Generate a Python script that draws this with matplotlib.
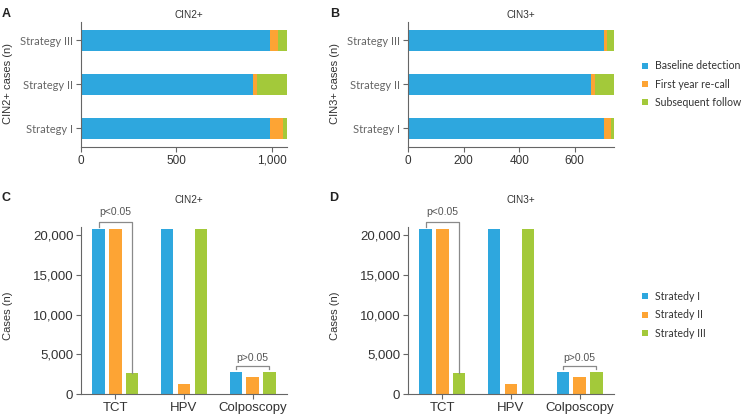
import matplotlib
matplotlib.use("Agg")
import matplotlib.pyplot as plt
import numpy as np
from matplotlib.lines import Line2D

# Panels A/B: detection timing per strategy (stacked horizontal bars)
strategies = ["Strategy I", "Strategy II", "Strategy III"]
phases = ["Baseline detection", "First year re-call", "Subsequent follow"]
cin2_baseline = [990, 900, 990]
cin2_recall = [70, 25, 45]
cin2_follow = [21, 156, 46]
cin3_baseline = [704, 660, 704]
cin3_recall = [25, 12, 12]
cin3_follow = [12, 69, 25]

# Panels C/D: cases by test method and strategy
methods = ["TCT", "HPV", "Colposcopy"]
series_labels = ["Stratedy I", "Stratedy II", "Stratedy III"]
cin2_cases = {
    "Stratedy I": [20800, 20800, 2750],
    "Stratedy II": [20800, 1250, 2200],
    "Stratedy III": [2700, 20800, 2800],
}
cin3_cases = {
    "Stratedy I": [20800, 20800, 2750],
    "Stratedy II": [20800, 1250, 2200],
    "Stratedy III": [2700, 20800, 2800],
}

BLUE = "#2ea7de"
ORANGE = "#fda434"
GREEN = "#a3c93a"
COLORS = [BLUE, ORANGE, GREEN]
SPINE = "#666666"
TXT = "#333333"
NUM_FONT = "Liberation Sans"
LBL_FONT = "Lato"

W, H = 743, 418
fig = plt.figure(figsize=(W / 100, H / 100), dpi=100)


def px_rect(left, top, right, bottom):
    return [left / W, 1 - bottom / H, (right - left) / W, (bottom - top) / H]


def style_axes(ax):
    for s in ("top", "right"):
        ax.spines[s].set_visible(False)
    for s in ("left", "bottom"):
        ax.spines[s].set_color(SPINE)
        ax.spines[s].set_linewidth(0.8)
    ax.tick_params(colors=SPINE, length=3.5, width=0.8, pad=2)


def stacked(ax, base, recall, follow):
    y = np.arange(len(strategies))
    left = np.zeros(len(y))
    for vals, c in zip([base, recall, follow], COLORS):
        ax.barh(y, vals, left=left, height=0.48, color=c, linewidth=0)
        left = left + np.array(vals)
    ax.set_yticks(y)
    ax.set_yticklabels(strategies, fontfamily=LBL_FONT, fontsize=8, color=TXT)
    ax.set_ylim(-0.43, 2.42)
    ax.set_xlim(0, left.max())
    style_axes(ax)
    for lab in ax.get_xticklabels():
        lab.set_fontfamily(NUM_FONT)
        lab.set_fontsize(8.5)
        lab.set_color(TXT)


def grouped(ax, data):
    x = np.arange(len(methods))
    offsets = [-0.245, 0, 0.245]
    for lab, off, c in zip(series_labels, offsets, COLORS):
        ax.bar(x + off, data[lab], width=0.184, color=c, linewidth=0)
    ax.set_xlim(-0.5, 2.5)
    ax.set_ylim(0, 21000)
    ax.set_yticks([0, 5000, 10000, 15000, 20000])
    ax.set_yticklabels(["0", "5,000", "10,000", "15,000", "20,000"])
    ax.set_xticks(x)
    ax.set_xticklabels(methods)
    style_axes(ax)
    for lab in ax.get_xticklabels() + ax.get_yticklabels():
        lab.set_fontfamily(NUM_FONT)
        lab.set_fontsize(9.5)
        lab.set_color(TXT)

    # significance brackets
    bc = "#8a8a8a"
    tl = x[0] + offsets[0]
    tr = x[0] + offsets[2]
    ax.plot([tl, tl, tr, tr], [21040, 21670, 21670, data["Stratedy III"][0]],
            color=bc, lw=0.9, clip_on=False)
    ax.text((tl + tr) / 2, 22300, "p<0.05", ha="center", va="bottom",
            fontsize=7.5, color="#555555", fontfamily=NUM_FONT, clip_on=False)
    cl = x[2] + offsets[0]
    cr = x[2] + offsets[2]
    ax.plot([cl, cl, cr, cr], [3140, 3550, 3550, 3140], color=bc, lw=0.9)
    ax.text((cl + cr) / 2, 3950, "p>0.05", ha="center", va="bottom",
            fontsize=7.5, color="#555555", fontfamily=NUM_FONT)


axA = fig.add_axes(px_rect(81, 22, 287, 147))
stacked(axA, cin2_baseline, cin2_recall, cin2_follow)
axA.set_xticks([0, 500, 1000])
axA.set_xticklabels(["0", "500", "1,000"])

axB = fig.add_axes(px_rect(408, 22, 614, 147))
stacked(axB, cin3_baseline, cin3_recall, cin3_follow)
axB.set_xticks([0, 200, 400, 600])
axB.set_xticklabels(["0", "200", "400", "600"])

axC = fig.add_axes(px_rect(81, 227, 287, 394.3))
grouped(axC, cin2_cases)
axD = fig.add_axes(px_rect(408, 227, 614, 394.3))
grouped(axD, cin3_cases)


def ftext(x, y, s, **kw):
    fig.text(x / W, 1 - y / H, s, **kw)


# panel letters
for (x, y), s in zip([(6, 14), (335, 14), (6, 198), (334, 198)], "ABCD"):
    ftext(x, y, s, fontsize=9, fontweight="bold", ha="center", va="center",
          family=NUM_FONT, color="#222222")

# titles
for (x, y), s in zip([(189, 15), (521, 15), (189, 200), (521, 200)],
                     ["CIN2+", "CIN3+", "CIN2+", "CIN3+"]):
    ftext(x, y, s, fontsize=7.2, ha="center", va="center", family=NUM_FONT, color=TXT)

# y labels
for (x, y), s in zip([(8, 83), (335, 83), (8, 316), (335, 316)],
                     ["CIN2+ cases (n)", "CIN3+ cases (n)", "Cases (n)", "Cases (n)"]):
    ftext(x, y, s, fontsize=8, ha="center", va="center", rotation=90,
          family=NUM_FONT, color=TXT)

# legends
def square_handles(labels):
    return [Line2D([], [], marker="s", linestyle="", markersize=5,
                   markerfacecolor=c, markeredgewidth=0, label=l)
            for l, c in zip(labels, COLORS)]


leg_kw = dict(frameon=False, handlelength=0.8, handletextpad=0.5,
              labelspacing=0.7, borderpad=0, borderaxespad=0,
              prop={"family": LBL_FONT, "size": 7.6}, labelcolor=TXT)
fig.legend(handles=square_handles(phases), loc="center left",
           bbox_to_anchor=(641 / W, 1 - 84.3 / H), **leg_kw)
fig.legend(handles=square_handles(series_labels), loc="center left",
           bbox_to_anchor=(641 / W, 1 - 315 / H), **leg_kw)

fig.savefig("out.png", dpi=100, facecolor="white")
